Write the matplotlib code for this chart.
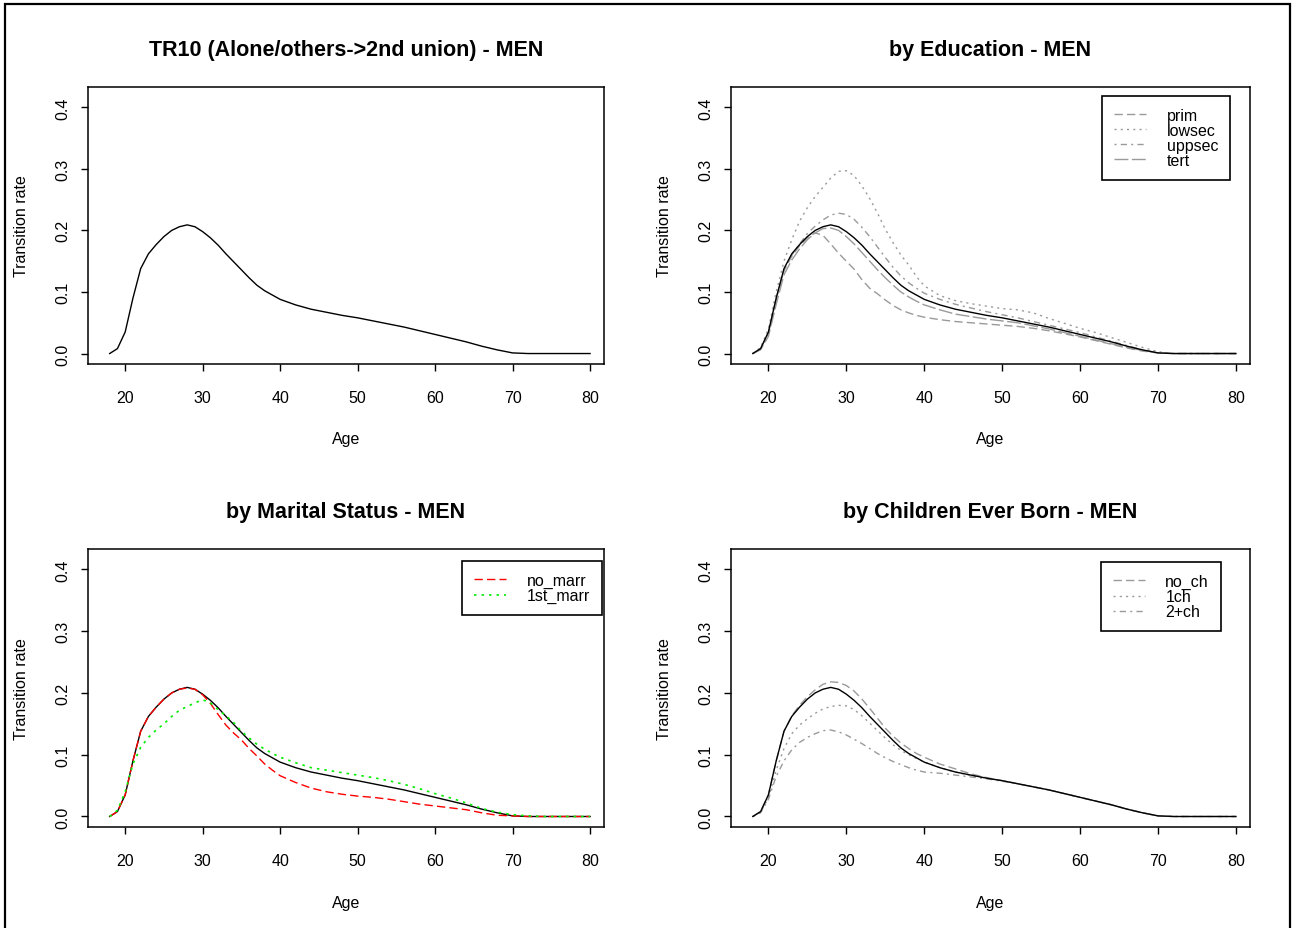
import matplotlib
matplotlib.use("Agg")
import matplotlib.pyplot as plt
from matplotlib.patches import Rectangle

plt.rcParams['font.family'] = ['Liberation Sans', 'DejaVu Sans']

# ages (1-year steps to 40, then 2-year steps)
ages = [18, 19, 20, 21, 22, 23, 24, 25, 26, 27, 28, 29, 30, 31, 32, 33, 34, 35, 36, 37, 38, 39, 40,
        42, 44, 46, 48, 50, 52, 54, 56, 58, 60, 62, 64, 66, 68, 70, 72, 74, 76, 78, 80]

# overall rate (black line in every panel)
total = [0.000, 0.008, 0.035, 0.090, 0.138, 0.162, 0.177, 0.190, 0.200, 0.206, 0.209, 0.206, 0.198,
         0.188, 0.176, 0.162, 0.149, 0.136, 0.123, 0.111, 0.102, 0.095, 0.088,
         0.079, 0.072, 0.067, 0.062, 0.058, 0.053, 0.048, 0.043, 0.037, 0.031, 0.025, 0.019, 0.012,
         0.006, 0.001, 0.0, 0.0, 0.0, 0.0, 0.0]

# by education
prim = [0.000, 0.008, 0.033, 0.090, 0.135, 0.158, 0.175, 0.188, 0.196, 0.192, 0.178, 0.163, 0.150,
        0.137, 0.120, 0.106, 0.097, 0.087, 0.078, 0.071, 0.066, 0.062, 0.059,
        0.055, 0.052, 0.050, 0.048, 0.046, 0.044, 0.041, 0.037, 0.032, 0.027, 0.021, 0.015, 0.009,
        0.004, 0.001, 0.0, 0.0, 0.0, 0.0, 0.0]
lowsec = [0.000, 0.010, 0.040, 0.100, 0.150, 0.185, 0.215, 0.237, 0.255, 0.270, 0.285, 0.296, 0.297,
          0.289, 0.272, 0.252, 0.228, 0.202, 0.180, 0.160, 0.144, 0.125, 0.110,
          0.094, 0.086, 0.081, 0.077, 0.073, 0.071, 0.066, 0.057, 0.049, 0.041, 0.034, 0.026, 0.018,
          0.010, 0.003, 0.0, 0.0, 0.0, 0.0, 0.0]
uppsec = [0.000, 0.008, 0.033, 0.088, 0.135, 0.160, 0.178, 0.195, 0.207, 0.217, 0.225, 0.228, 0.226,
          0.218, 0.205, 0.190, 0.173, 0.156, 0.140, 0.126, 0.115, 0.106, 0.098,
          0.088, 0.080, 0.074, 0.068, 0.063, 0.058, 0.052, 0.046, 0.040, 0.034, 0.027, 0.020, 0.013,
          0.006, 0.001, 0.0, 0.0, 0.0, 0.0, 0.0]
tert = [0.000, 0.006, 0.028, 0.080, 0.128, 0.152, 0.170, 0.185, 0.196, 0.203, 0.204, 0.200, 0.190,
        0.178, 0.164, 0.150, 0.136, 0.123, 0.111, 0.100, 0.092, 0.085, 0.079,
        0.071, 0.064, 0.060, 0.056, 0.053, 0.050, 0.045, 0.040, 0.034, 0.028, 0.022, 0.016, 0.010,
        0.005, 0.001, 0.0, 0.0, 0.0, 0.0, 0.0]

# by marital status
no_marr = [0.000, 0.008, 0.035, 0.090, 0.138, 0.162, 0.177, 0.190, 0.200, 0.206, 0.208, 0.206, 0.197,
           0.183, 0.165, 0.148, 0.135, 0.124, 0.110, 0.098, 0.085, 0.075, 0.066,
           0.055, 0.046, 0.040, 0.036, 0.033, 0.031, 0.028, 0.024, 0.020, 0.017, 0.014, 0.011, 0.006,
           0.002, 0.001, 0.0, 0.0, 0.0, 0.0, 0.0]
first_marr = [0.000, 0.010, 0.040, 0.085, 0.112, 0.128, 0.140, 0.150, 0.162, 0.172, 0.178, 0.184, 0.189,
              0.184, 0.173, 0.163, 0.152, 0.138, 0.127, 0.117, 0.109, 0.102, 0.096,
              0.087, 0.079, 0.075, 0.071, 0.067, 0.063, 0.058, 0.052, 0.045, 0.037, 0.030, 0.022, 0.013,
              0.007, 0.003, 0.001, 0.0, 0.0, 0.0, 0.0]

# by children ever born
no_ch = [0.000, 0.008, 0.035, 0.090, 0.138, 0.163, 0.180, 0.194, 0.205, 0.214, 0.218, 0.217, 0.212,
         0.203, 0.190, 0.175, 0.159, 0.143, 0.130, 0.119, 0.110, 0.102, 0.096,
         0.085, 0.077, 0.069, 0.063, 0.058, 0.053, 0.048, 0.043, 0.037, 0.031, 0.025, 0.019, 0.012,
         0.006, 0.001, 0.0, 0.0, 0.0, 0.0, 0.0]
one_ch = [0.000, 0.007, 0.030, 0.075, 0.110, 0.134, 0.148, 0.158, 0.167, 0.174, 0.178, 0.180, 0.179,
          0.173, 0.163, 0.151, 0.139, 0.127, 0.116, 0.107, 0.100, 0.094, 0.088,
          0.079, 0.072, 0.066, 0.062, 0.058, 0.053, 0.048, 0.043, 0.037, 0.031, 0.025, 0.019, 0.012,
          0.006, 0.001, 0.0, 0.0, 0.0, 0.0, 0.0]
two_ch = [0.000, 0.006, 0.028, 0.065, 0.090, 0.108, 0.120, 0.128, 0.134, 0.139, 0.140, 0.137, 0.132,
          0.125, 0.118, 0.110, 0.102, 0.095, 0.089, 0.084, 0.079, 0.075, 0.072,
          0.070, 0.067, 0.064, 0.061, 0.057, 0.053, 0.048, 0.043, 0.037, 0.031, 0.025, 0.019, 0.012,
          0.006, 0.001, 0.0, 0.0, 0.0, 0.0, 0.0]

W, H = 1295, 929
fig = plt.figure(figsize=(W / 100, H / 100), dpi=100)
fig.patch.set_facecolor("white")

# outer frame
fig.add_artist(Rectangle((5 / W, -0.1), (1290 - 5) / W, 1 - 5 / H + 0.1,
                         transform=fig.transFigure, fill=False, lw=1.6, ec="black"))

GREY = "#9a9a9a"
DASHED = (6, 3)
DOTTED = (1.5, 3)
DOTDASH = (1.5, 3, 4.5, 3)
LONGDASH = (10, 2.5)
FS = 11.5


def make_axes(left, top, right, bottom, title):
    ax = fig.add_axes([left / W, 1 - bottom / H, (right - left) / W, (bottom - top) / H])
    ax.set_xlim(15.2, 81.8)
    ax.set_ylim(-0.017, 0.433)
    ax.set_xticks([20, 30, 40, 50, 60, 70, 80])
    ax.set_yticks([0.0, 0.1, 0.2, 0.3, 0.4])
    ax.set_yticklabels(["0.0", "0.1", "0.2", "0.3", "0.4"], rotation=90, va="center")
    ax.tick_params(direction="out", length=5, width=1, labelsize=FS, pad=14)
    ax.tick_params(axis="y", pad=8)
    for s in ax.spines.values():
        s.set_linewidth(1.1)
    ax.set_title(title, fontsize=15.5, fontweight="bold", pad=23)
    ax.set_xlabel("Age", fontsize=FS)
    ax.set_ylabel("Transition rate", fontsize=FS)
    ax.xaxis.set_label_coords(0.5, -0.27)
    ax.xaxis.label.set_va("center")
    ax.yaxis.set_label_coords(-0.128, 0.5)
    ax.yaxis.label.set_va("center")
    return ax


def add_legend(ax, right_px, top_px, ax_left, ax_right, ax_top, ax_bottom):
    bx = (right_px - ax_left) / (ax_right - ax_left)
    by = 1 - (top_px - ax_top) / (ax_bottom - ax_top)
    leg = ax.legend(loc="upper right", bbox_to_anchor=(bx, by), borderaxespad=0,
                    fontsize=11.5, labelspacing=0.0, handlelength=2.0, handletextpad=1.3,
                    borderpad=0.75, fancybox=False, framealpha=1, edgecolor="black")
    leg.get_frame().set_linewidth(1.2)
    return leg


# panel 1
ax1 = make_axes(88, 88, 604, 365, "TR10 (Alone/others->2nd union) - MEN")
ax1.plot(ages, total, color="black", lw=1.0)

# panel 2 - education
ax2 = make_axes(731, 88, 1250, 365, "by Education - MEN")
ax2.plot(ages, prim, color=GREY, lw=1.0, dashes=DASHED, label="prim")
ax2.plot(ages, lowsec, color=GREY, lw=1.0, dashes=DOTTED, label="lowsec")
ax2.plot(ages, uppsec, color=GREY, lw=1.0, dashes=DOTDASH, label="uppsec")
ax2.plot(ages, tert, color=GREY, lw=1.0, dashes=LONGDASH, label="tert")
ax2.plot(ages, total, color="black", lw=1.0)
add_legend(ax2, 1230, 97, 731, 1250, 88, 365)

# panel 3 - marital status
ax3 = make_axes(88, 550, 604, 828, "by Marital Status - MEN")
ax3.plot(ages, total, color="black", lw=1.0)
ax3.plot(ages, no_marr, color="red", lw=1.0, dashes=DASHED, label="no_marr")
ax3.plot(ages, first_marr, color="#00ee00", lw=1.2, dashes=DOTTED, label="1st_marr")
add_legend(ax3, 602, 562, 88, 604, 550, 828)

# panel 4 - children
ax4 = make_axes(731, 550, 1250, 828, "by Children Ever Born - MEN")
ax4.plot(ages, no_ch, color=GREY, lw=1.0, dashes=DASHED, label="no_ch")
ax4.plot(ages, one_ch, color=GREY, lw=1.0, dashes=DOTTED, label="1ch")
ax4.plot(ages, two_ch, color=GREY, lw=1.0, dashes=DOTDASH, label="2+ch")
ax4.plot(ages, total, color="black", lw=1.0)
add_legend(ax4, 1221, 563, 731, 1250, 550, 828)

fig.savefig("out.png", dpi=100)
